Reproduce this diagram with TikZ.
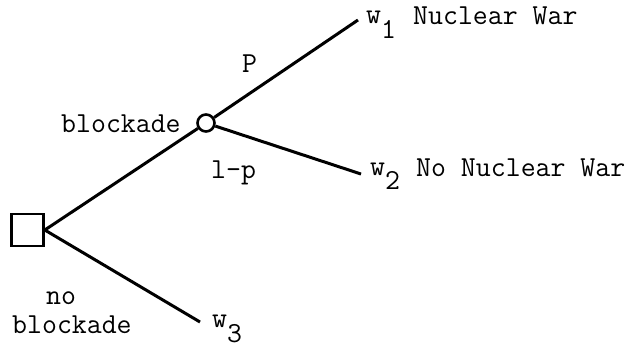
\documentclass[tikz,border=0pt]{standalone}
\usepackage{fontspec}
\begin{document}
\begin{tikzpicture}[x=1pt,y=-1pt,
  branch/.style={line width=3pt},
  lbl/.style={anchor=base west,inner sep=0pt,font=\ttfamily\fontsize{29}{34}\selectfont\addfontfeatures{FakeBold=2}},
  decision/.style={draw,line width=2.6pt,minimum size=32pt,inner sep=0pt},
  chance/.style={draw,circle,line width=2.6pt,minimum size=17pt,inner sep=0pt}]
\useasboundingbox (0,0) rectangle (637,351);
\node[decision] (sq) at (27.5,230) {};
\node[chance] (ch) at (206,123) {};
\coordinate (e1) at (358,20);
\coordinate (e2) at (361,174);
\coordinate (e3) at (200,322);
\draw[branch] (sq.east) -- (ch);
\draw[branch] (sq.east) -- (e3);
\draw[branch] (ch) -- (e1);
\draw[branch] (ch) -- (e2);
\node[lbl] (lb1) at (61,132) {blockade};
\node[lbl] (lp) at (242,72) {P};
\node[lbl] (l1p) at (211,178) {l-p};
\node[lbl] (lno) at (46,304) {no};
\node[lbl] (lb2) at (12,333) {blockade};
\node[lbl] (w1) at (366,23) {w\raisebox{-0.55em}{1}};
\node[lbl] (t1) at (413,24) {Nuclear War};
\node[lbl] (w2) at (370,175) {w\raisebox{-0.5em}{2}};
\node[lbl] (t2) at (416,176) {No Nuclear War};
\node[lbl] (w3) at (212,327) {w\raisebox{-0.55em}{3}};
\end{tikzpicture}
\end{document}
